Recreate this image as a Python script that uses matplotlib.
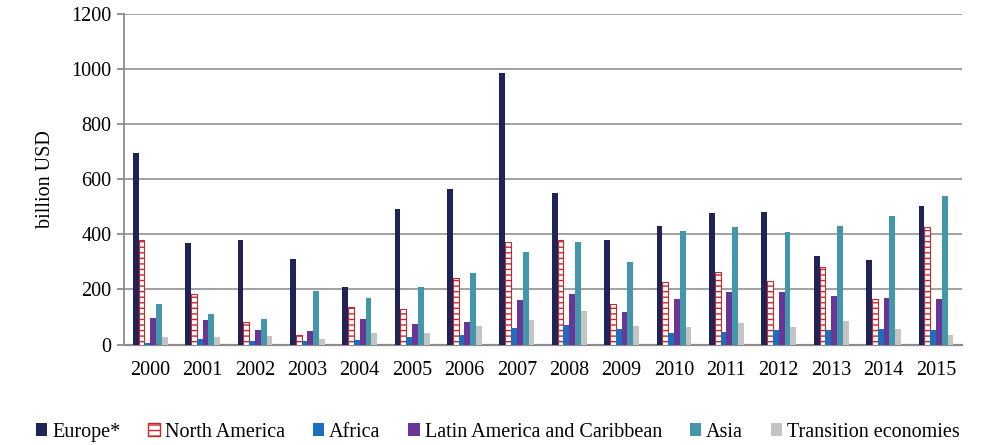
import numpy as np
import matplotlib
matplotlib.use("Agg")
import matplotlib.pyplot as plt
from matplotlib.patches import Patch

plt.rcParams['font.family'] = ['Liberation Serif', 'DejaVu Serif']

years = [str(y) for y in range(2000, 2016)]
series_names = ['Europe*', 'North America', 'Africa',
                'Latin America and Caribbean', 'Asia', 'Transition economies']

europe = [697, 368, 380, 310, 209, 494, 565, 988, 551, 378, 431, 477, 483, 323, 306, 503]
north_america = [380, 183, 83, 35, 135, 128, 243, 371, 380, 147, 226, 265, 231, 282, 164, 427]
africa = [7, 19, 12, 14, 16, 28, 35, 61, 71, 56, 43, 47, 54, 52, 56, 53]
latin_america = [97, 89, 52, 49, 94, 76, 83, 163, 182, 117, 166, 192, 190, 176, 170, 166]
asia = [146, 112, 93, 196, 169, 209, 259, 336, 372, 300, 412, 426, 409, 431, 467, 541]
transition = [28, 27, 31, 20, 41, 42, 68, 90, 122, 68, 64, 79, 65, 84, 56, 36]

colors = ['#1f2357', '#c8282d', '#1b6fbd', '#6a3596', '#4397aa', '#c4c4c4']

fig = plt.figure(figsize=(9.96, 4.45), dpi=100)
ax = fig.add_axes([0.1245, 0.2258, 0.8415, 0.7421])

x = np.arange(len(years))
w = 0.111
data = [europe, north_america, africa, latin_america, asia, transition]
for i, vals in enumerate(data):
    pos = x + (i - 2.5) * w
    if i == 1:
        # ladder-like pattern for North America
        ax.bar(pos, vals, w, facecolor='white', edgecolor=colors[i],
               hatch='---', linewidth=0.8, zorder=3)
    else:
        ax.bar(pos, vals, w, color=colors[i], linewidth=0, zorder=3)

ax.set_xlim(-0.5, len(years) - 0.5)
ax.set_ylim(0, 1200)
ax.set_yticks(range(0, 1201, 200))
ax.set_xticks(x)
ax.set_xticklabels(years)
ax.yaxis.grid(True, color='#9a9a9a', linewidth=1.3, zorder=0)
ax.set_axisbelow(True)
for s in ['top', 'right']:
    ax.spines[s].set_visible(False)
ax.spines['left'].set_color('#8c8c8c')
ax.spines['left'].set_linewidth(1.3)
ax.spines['bottom'].set_color('#8c8c8c')
ax.spines['bottom'].set_linewidth(1.6)
ax.tick_params(axis='y', length=5, width=1.3, color='#8c8c8c', labelsize=14.5, pad=4)
ax.tick_params(axis='x', length=0, labelsize=14.5, pad=12)
ax.set_ylabel('billion USD', fontsize=14.5, labelpad=12)

handles = []
for i, name in enumerate(series_names):
    if i == 1:
        handles.append(Patch(facecolor='white', edgecolor=colors[i], hatch='---', label=name))
    else:
        handles.append(Patch(facecolor=colors[i], edgecolor='none', label=name))
fig.legend(handles=handles, loc='center', bbox_to_anchor=(0.5, 0.029), ncol=6,
           frameon=False, fontsize=14.5, handlelength=0.55, handleheight=0.55,
           handletextpad=0.25, columnspacing=1.4, borderpad=0)

fig.savefig('out.png', dpi=100)
